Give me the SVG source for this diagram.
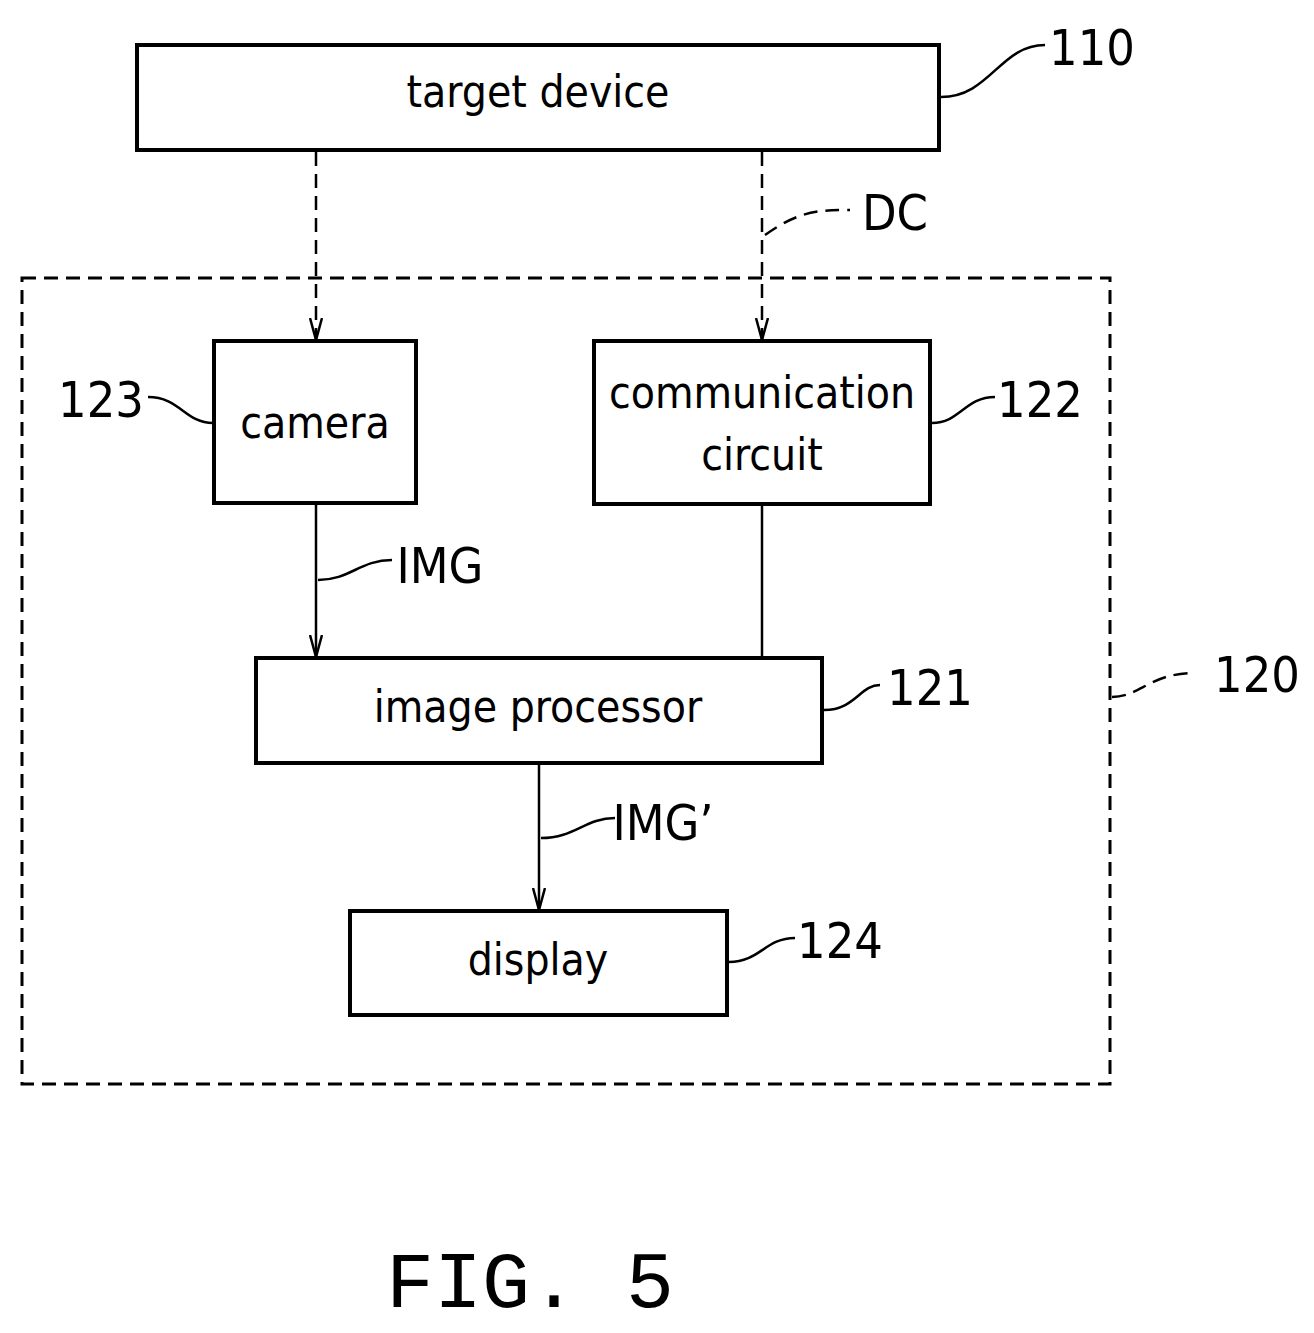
<svg xmlns="http://www.w3.org/2000/svg" width="1314" height="1333" viewBox="0 0 1314 1333">
<defs>
<style>
.b{fill:#fff;stroke:#000;stroke-width:4}
.l{fill:none;stroke:#000;stroke-width:2.5}
.d{stroke-dasharray:14 8}
.t{font-family:"DejaVu Sans Condensed","DejaVu Sans",sans-serif;font-stretch:condensed;font-size:44px;text-anchor:middle}
.n{font-family:"DejaVu Sans Condensed","DejaVu Sans",sans-serif;font-stretch:condensed;font-size:50px;text-anchor:middle}
</style>
<marker id="a" markerWidth="24" markerHeight="14" refX="22" refY="7" orient="auto" markerUnits="userSpaceOnUse" viewBox="0 0 24 14">
<path d="M0,1 L22,7 L0,13" fill="none" stroke="#000" stroke-width="2.5"/>
</marker>
</defs>
<rect width="1314" height="1333" fill="#fff"/>
<g id="n120"><rect x="22" y="278" width="1088" height="806" fill="none" stroke="#000" stroke-width="3" class="d"/>
<path class="l d" d="M1112,697 C1140,697 1150,673 1195,673"/><text class="n" x="1257" y="692">120</text></g>
<g id="connectors">
<path class="l d" d="M316,152 V340" marker-end="url(#a)"/>
<path class="l d" d="M762,152 V340" marker-end="url(#a)"/>
<path class="l" d="M316,503 V657" marker-end="url(#a)"/>
<path class="l" d="M762,504 V658"/>
<path class="l" d="M539,763 V910" marker-end="url(#a)"/>
<path class="l d" d="M765,235 C800,210 820,210 850,210"/>
<path class="l" d="M318,580 C350,580 360,560 392,560"/>
<path class="l" d="M541,838 C575,838 585,818 615,818"/>
</g>
<text class="n" x="895" y="230">DC</text>
<text class="n" x="440" y="583">IMG</text>
<text class="n" x="663" y="840">IMG’</text>
<g id="n110"><rect class="b" x="137" y="45" width="802" height="105"/><text class="t" x="538" y="107">target device</text>
<path class="l" d="M941,97 C990,97 1000,45 1045,45"/><text class="n" x="1092" y="65">110</text></g>
<g id="n123"><rect class="b" x="214" y="341" width="202" height="162"/><text class="t" x="315" y="438">camera</text>
<path class="l" d="M148,397 C180,397 185,423 213,423"/><text class="n" x="101" y="417">123</text></g>
<g id="n122"><rect class="b" x="594" y="341" width="336" height="163"/><text class="t" x="762" y="408">communication</text><text class="t" x="762" y="470">circuit</text>
<path class="l" d="M932,423 C960,423 965,397 995,397"/><text class="n" x="1040" y="417">122</text></g>
<g id="n121"><rect class="b" x="256" y="658" width="566" height="105"/><text class="t" x="538" y="722">image processor</text>
<path class="l" d="M824,710 C855,710 860,685 880,685"/><text class="n" x="930" y="705">121</text></g>
<g id="n124"><rect class="b" x="350" y="911" width="377" height="104"/><text class="t" x="538" y="975">display</text>
<path class="l" d="M729,962 C760,962 765,938 795,938"/><text class="n" x="840" y="958">124</text></g>
<text x="530" y="1307" font-family="Liberation Mono,monospace" font-size="80" text-anchor="middle">FIG. 5</text>
</svg>
